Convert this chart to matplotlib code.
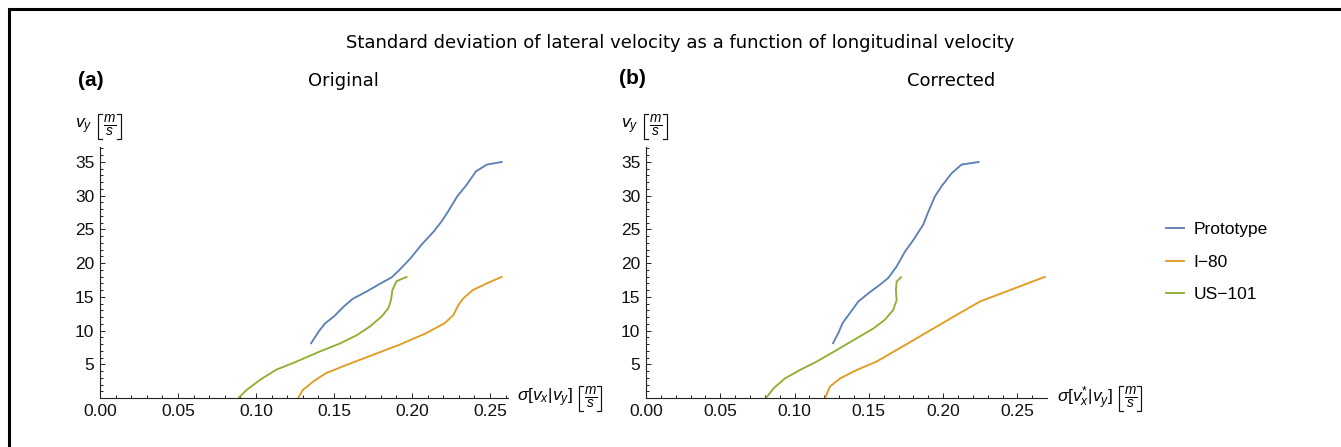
import matplotlib
matplotlib.use("Agg")
import matplotlib.pyplot as plt
from matplotlib.patches import Rectangle
from matplotlib.lines import Line2D
from matplotlib.ticker import MultipleLocator, FixedLocator, FormatStrFormatter

plt.rcParams["font.family"] = ["Liberation Sans", "DejaVu Sans"]
plt.rcParams["mathtext.fontset"] = "custom"
plt.rcParams["mathtext.rm"] = "Liberation Sans"
plt.rcParams["mathtext.it"] = "Liberation Sans:italic"
plt.rcParams["mathtext.bf"] = "Liberation Sans:bold"

# ---- data: (sigma, v_y) pairs per site --------------------------------
series_names = ["Prototype", "I\u221280", "US\u2212101"]
series_colors = ["#5E81B5", "#E19C24", "#8FB032"]

# Original (uncorrected) estimates
orig_proto_sigma = [0.135, 0.140, 0.144, 0.150, 0.156, 0.162, 0.171, 0.180, 0.187,
                    0.192, 0.199, 0.206, 0.214, 0.219, 0.223, 0.229, 0.235, 0.241,
                    0.248, 0.258]
orig_proto_vy = [8.0, 9.8, 11.0, 12.1, 13.5, 14.7, 15.8, 17.0, 17.9, 19.0, 20.7,
                 22.7, 24.7, 26.2, 27.6, 29.9, 31.6, 33.6, 34.6, 35.0]

orig_i80_sigma = [0.127, 0.130, 0.137, 0.145, 0.158, 0.175, 0.192, 0.209, 0.221,
                  0.2265, 0.2297, 0.233, 0.239, 0.248, 0.258]
orig_i80_vy = [0.0, 1.2, 2.5, 3.7, 4.9, 6.4, 7.9, 9.6, 11.1, 12.3, 13.8, 14.8,
               16.0, 17.0, 18.0]

orig_us101_sigma = [0.0887, 0.094, 0.1026, 0.113, 0.126, 0.141, 0.154, 0.1645,
                    0.173, 0.1806, 0.1848, 0.1865, 0.1874, 0.190, 0.197]
orig_us101_vy = [0.0, 1.2, 2.7, 4.2, 5.4, 6.9, 8.1, 9.3, 10.6, 12.1, 13.3, 14.5,
                 16.0, 17.3, 18.0]

# Corrected estimates
corr_proto_sigma = [0.1256, 0.1294, 0.1323, 0.1373, 0.1429, 0.1496, 0.1575, 0.1631,
                    0.1687, 0.1743, 0.1799, 0.1866, 0.1900, 0.1945, 0.1990, 0.2057,
                    0.2124, 0.2245]
corr_proto_vy = [8.0, 9.6, 11.1, 12.6, 14.3, 15.5, 16.8, 17.8, 19.5, 21.7, 23.4,
                 25.7, 27.6, 29.9, 31.4, 33.3, 34.6, 35.0]

corr_i80_sigma = [0.1205, 0.1238, 0.1306, 0.1418, 0.1552, 0.1709, 0.1934, 0.2113,
                  0.2248, 0.2427, 0.2690]
corr_i80_vy = [0.0, 1.7, 2.9, 4.15, 5.4, 7.4, 10.3, 12.6, 14.3, 15.8, 18.0]

corr_us101_sigma = [0.0808, 0.0857, 0.0935, 0.1036, 0.1149, 0.1283, 0.1418, 0.1530,
                    0.1608, 0.1664, 0.1687, 0.1682, 0.1687, 0.1721]
corr_us101_vy = [0.0, 1.4, 2.9, 4.15, 5.4, 7.1, 8.85, 10.3, 11.6, 13.05, 14.5,
                 16.0, 17.25, 18.0]

x_ticks = [0.00, 0.05, 0.10, 0.15, 0.20, 0.25]
y_ticks = [5, 10, 15, 20, 25, 30, 35]

panels = [
    dict(tag="(a)", title="Original",
         xlabel=r"$\sigma[v_x|v_y]$",
         xmax=0.2615,
         data=[(orig_proto_sigma, orig_proto_vy),
               (orig_i80_sigma, orig_i80_vy),
               (orig_us101_sigma, orig_us101_vy)]),
    dict(tag="(b)", title="Corrected",
         xlabel=r"$\sigma[v^{*}_x|v_y]$",
         xmax=0.2699,
         data=[(corr_proto_sigma, corr_proto_vy),
               (corr_i80_sigma, corr_i80_vy),
               (corr_us101_sigma, corr_us101_vy)]),
]

W, H = 1341, 447
fig = plt.figure(figsize=(W / 100, H / 100), dpi=100)
renderer = fig.canvas.get_renderer()


def fx(px):
    return px / W


def fy(py):
    return 1 - py / H


def px_rect(x0, y_top, x1, y_bot):
    return [x0 / W, 1 - y_bot / H, (x1 - x0) / W, (y_bot - y_top) / H]


def bracket(x, y_mid, half_h, opening):
    """Thin square bracket drawn in pixel units (x = stem position)."""
    arm = 4 if opening else -4
    xs = [x + arm, x, x, x + arm]
    ys = [y_mid - half_h, y_mid - half_h, y_mid + half_h, y_mid + half_h]
    fig.add_artist(Line2D([fx(v) for v in xs], [fy(v) for v in ys],
                          transform=fig.transFigure, color="#111111",
                          lw=0.85, solid_joinstyle="miter"))


def unit_label(x_left, y_mid, head):
    """Quantity symbol followed by a tall bracketed m/s unit."""
    t = fig.text(fx(x_left), fy(y_mid), head, ha="left", va="center",
                 fontsize=12.5)
    x = t.get_window_extent(renderer).x1 + 6
    bracket(x, y_mid, 12.5, True)
    fr = fig.text(fx(x + 5), fy(y_mid), r"$\frac{m}{s}$", ha="left",
                  va="center", fontsize=14)
    x = fr.get_window_extent(renderer).x1 + 4
    bracket(x, y_mid, 12.5, False)


axes_boxes = [px_rect(100, 147, 508, 398), px_rect(646, 147, 1047, 398)]
tag_pos = [(91, 80), (632, 79)]
title_pos = [(343, 81), (951, 81)]
ylabel_pos = [(75, 126), (621, 126)]
xlabel_pos = [(517, 398), (1057, 398)]

for box, tpos, ttl_pos, ylp, xlp, p in zip(axes_boxes, tag_pos, title_pos,
                                           ylabel_pos, xlabel_pos, panels):
    ax = fig.add_axes(box)
    for (sx, vy), c in zip(p["data"], series_colors):
        ax.plot(sx, vy, color=c, lw=1.35, solid_capstyle="butt",
                solid_joinstyle="round")
    ax.set_xlim(0, p["xmax"])
    ax.set_ylim(0, 37.2)
    for s in ("top", "right"):
        ax.spines[s].set_visible(False)
    for s in ("left", "bottom"):
        ax.spines[s].set_linewidth(0.8)
        ax.spines[s].set_color("#222222")
    ax.xaxis.set_major_locator(FixedLocator(x_ticks))
    ax.xaxis.set_minor_locator(MultipleLocator(0.01))
    ax.xaxis.set_major_formatter(FormatStrFormatter("%.2f"))
    ax.yaxis.set_major_locator(FixedLocator(y_ticks))
    ax.yaxis.set_minor_locator(MultipleLocator(1))
    ax.tick_params(which="both", direction="in", colors="#222222",
                   labelcolor="#111111", labelsize=12.5, width=0.7)
    ax.tick_params(which="major", length=3.8, pad=4)
    ax.tick_params(which="minor", length=2.2)
    ax.set_facecolor("none")

    fig.text(fx(tpos[0]), fy(tpos[1]), p["tag"], ha="center", va="center",
             fontsize=15, fontweight="bold")
    fig.text(fx(ttl_pos[0]), fy(ttl_pos[1]), p["title"], ha="center",
             va="center", fontsize=13, family=["DejaVu Sans"])
    unit_label(ylp[0], ylp[1], r"$v_y$")
    unit_label(xlp[0], xlp[1], p["xlabel"])

fig.text(fx(680), fy(43),
         "Standard deviation of lateral velocity as a function of longitudinal velocity",
         ha="center", va="center", fontsize=13, family=["DejaVu Sans"])

# legend
handles = [Line2D([], [], color=c, lw=1.35) for c in series_colors]
leg = fig.legend(handles, series_names, loc="upper left",
                 bbox_to_anchor=(fx(1166), fy(222)), frameon=False,
                 fontsize=12.5, handlelength=1.05, handletextpad=0.55,
                 labelspacing=1.0, borderaxespad=0, borderpad=0)

# outer frame
fig.patches.append(Rectangle((8.5 / W, -0.05), 1.2, 1 - 8.5 / H + 0.05,
                             transform=fig.transFigure, fill=False,
                             edgecolor="black", lw=2.2))

fig.savefig("out.png", dpi=100)
